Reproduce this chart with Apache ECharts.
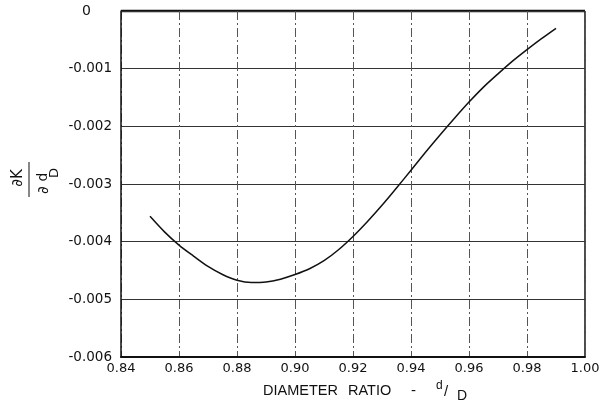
<!DOCTYPE html>
<html>
<head>
<meta charset="utf-8">
<script src="https://cdn.jsdelivr.net/npm/echarts@6/dist/echarts.min.js"></script>
<style>
  html, body { margin: 0; padding: 0; background: #fff; }
  #chart { width: 605px; height: 404px; }
</style>
</head>
<body>
<div id="chart"></div>
<script>
// diameter ratio d/D
const ratio = [0.85, 0.855, 0.86, 0.865, 0.87, 0.875, 0.88, 0.885, 0.89, 0.895, 0.90, 0.905,
  0.91, 0.915, 0.92, 0.925, 0.93, 0.935, 0.94, 0.945, 0.95, 0.955, 0.96, 0.965, 0.97, 0.975,
  0.98, 0.985, 0.99]
// dK / d(d/D)
const slope = [-0.00356, -0.00383, -0.00406, -0.00425, -0.00443, -0.00457, -0.00467, -0.00471,
  -0.00470, -0.00465, -0.00457, -0.00447, -0.00433, -0.00414, -0.00391, -0.00365, -0.00337,
  -0.00307, -0.00276, -0.00245, -0.00215, -0.00186, -0.00158, -0.00132, -0.00109, -0.00087,
  -0.00067, -0.00048, -0.00030]

const font = 'DejaVu Sans'
const nameFont = 'Liberation Sans'
const ink = '#111'

const chart = echarts.init(document.getElementById('chart'))

const option = {
  backgroundColor: '#fff',
  animation: false,
  grid: { left: 121, top: 11, right: 20, bottom: 47 },
  xAxis: {
    type: 'value',
    min: 0.84,
    max: 1.00,
    interval: 0.02,
    axisLine: { show: true, onZero: false, lineStyle: { color: ink, width: 2 } },
    axisTick: { show: false },
    axisLabel: {
      color: ink, fontFamily: font, fontSize: 13, margin: 5,
      formatter: v => v.toFixed(2)
    },
    splitLine: {
      show: true,
      lineStyle: { color: '#555', width: 1, type: [9, 3, 2, 3] }
    }
  },
  yAxis: {
    type: 'value',
    min: -0.006,
    max: 0,
    interval: 0.001,
    axisLine: { show: true, onZero: false, lineStyle: { color: ink, width: 1.5 } },
    axisTick: { show: false },
    axisLabel: {
      color: ink, fontFamily: font, fontSize: 13.5, margin: 9,
      formatter: v => Math.abs(v) < 1e-9 ? '{z|0}' : v.toFixed(3),
      rich: { z: { fontFamily: font, fontSize: 14, color: ink, padding: [0, 21, 0, 0] } }
    },
    splitLine: { show: true, lineStyle: { color: '#333', width: 1 } }
  },
  graphic: [
    // frame top and right
    { type: 'line', shape: { x1: 121, y1: 11, x2: 585, y2: 11 }, style: { stroke: ink, lineWidth: 2.5 } },
    { type: 'line', shape: { x1: 585, y1: 11, x2: 585, y2: 357 }, style: { stroke: ink, lineWidth: 1.5 } },
    // x axis name
    { type: 'text', x: 263, y: 391, style: { text: 'DIAMETER', fill: ink, font: '14.5px ' + nameFont, verticalAlign: 'middle' } },
    { type: 'text', x: 348, y: 391, style: { text: 'RATIO', fill: ink, font: '14.5px ' + nameFont, verticalAlign: 'middle' } },
    { type: 'text', x: 411, y: 391, style: { text: '-', fill: ink, font: '15px ' + nameFont, verticalAlign: 'middle' } },
    { type: 'text', x: 436, y: 386, style: { text: 'd', fill: ink, font: '12px ' + nameFont, verticalAlign: 'middle' } },
    { type: 'text', x: 444, y: 392, style: { text: '/', fill: ink, font: '15px ' + nameFont, verticalAlign: 'middle' } },
    { type: 'text', x: 457, y: 396, style: { text: 'D', fill: ink, font: '14px ' + nameFont, verticalAlign: 'middle' } },
    // y axis name: dK / d(d/D), rotated
    {
      type: 'group', x: 29, y: 181, rotation: Math.PI / 2,
      children: [
        { type: 'text', x: 3, y: -11, style: { text: '∂K', fill: ink, font: '15px ' + font, align: 'center', verticalAlign: 'middle' } },
        { type: 'line', shape: { x1: -16, y1: 0, x2: 19, y2: 0 }, style: { stroke: ink, lineWidth: 1 } },
        { type: 'text', x: -9, y: 15, style: { text: '∂', fill: ink, font: '15px ' + font, align: 'center', verticalAlign: 'middle' } },
        { type: 'text', x: 4, y: 14, style: { text: 'd', fill: ink, font: '14px ' + font, align: 'center', verticalAlign: 'middle' } },
        { type: 'text', x: 8, y: 26, style: { text: 'D', fill: ink, font: '13px ' + font, align: 'center', verticalAlign: 'middle' } }
      ]
    }
  ],
  series: [
    {
      type: 'line',
      data: ratio.map((r, i) => [r, slope[i]]),
      smooth: 0.3,
      showSymbol: false,
      lineStyle: { color: ink, width: 1.5 }
    }
  ]
}

chart.setOption(option)
</script>
</body>
</html>
